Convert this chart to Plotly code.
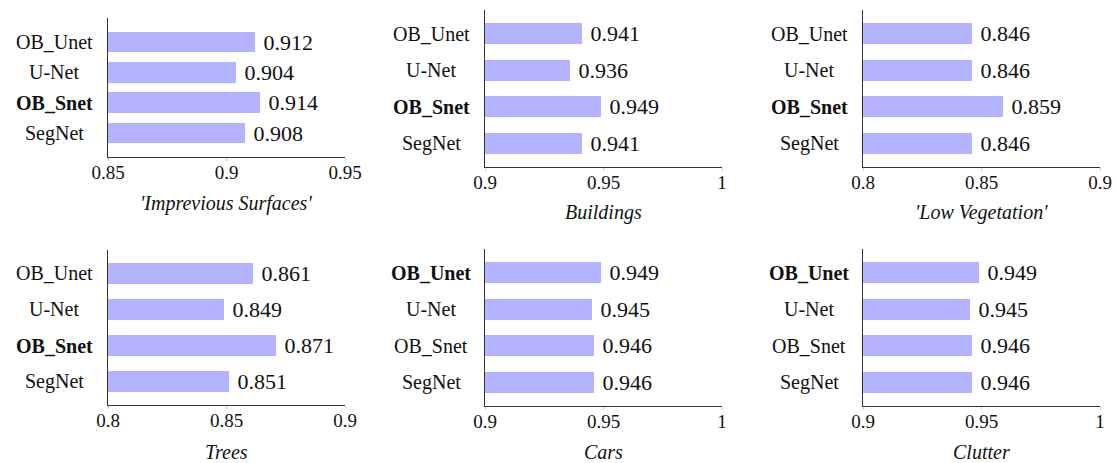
import plotly.graph_objects as go

models = ["SegNet", "OB_Snet", "U-Net", "OB_Unet"]  # bottom to top

impervious = [0.908, 0.914, 0.904, 0.912]
buildings = [0.941, 0.949, 0.936, 0.941]
low_veg = [0.846, 0.859, 0.846, 0.846]
trees = [0.851, 0.871, 0.849, 0.861]
cars = [0.946, 0.946, 0.945, 0.949]
clutter = [0.946, 0.946, 0.945, 0.949]

titles = ["'Imprevious Surfaces'", "Buildings", "'Low Vegetation'", "Trees", "Cars", "Clutter"]
x_ranges = [(0.85, 0.95), (0.9, 1.0), (0.8, 0.9), (0.8, 0.9), (0.9, 1.0), (0.9, 1.0)]
x_ticks = [[0.85, 0.9, 0.95], [0.9, 0.95, 1], [0.8, 0.85, 0.9],
           [0.8, 0.85, 0.9], [0.9, 0.95, 1], [0.9, 0.95, 1]]
bold_model = ["OB_Snet", "OB_Snet", "OB_Snet", "OB_Snet", "OB_Unet", "OB_Unet"]
series = [impervious, buildings, low_veg, trees, cars, clutter]

W, H = 1116, 463
# panel boxes in pixels: left, right, top, bottom
boxes = [(108, 345, 18, 157), (485, 722, 10, 167), (863, 1100, 10, 167),
         (108, 345, 250, 405), (485, 722, 249, 406), (863, 1100, 249, 406)]
title_y = [204, 213, 213, 452, 452, 452]

FONT = "Liberation Serif"
BAR = "#b3b3ff"
INK = "#111111"


def px(x):
    return x / W


def py(y):
    return 1 - y / H


fig = go.Figure()
ypos = list(range(len(models)))

for i, vals in enumerate(series):
    n = "" if i == 0 else str(i + 1)
    l, r, t, b = boxes[i]
    wide = i == 0
    fig.add_trace(go.Bar(
        x=vals, y=ypos, orientation="h", base=0,
        marker=dict(color=BAR, line=dict(width=0)),
        width=0.69 if wide else 0.58,
        text=[" %.3f" % v for v in vals], textposition="outside",
        constraintext="none",
        textfont=dict(family=FONT, size=22, color=INK),
        cliponaxis=False, showlegend=False,
        xaxis="x" + n, yaxis="y" + n,
    ))
    rng = (-0.79, 3.79) if wide else (-0.65, 3.65)
    fig.layout["xaxis" + n] = dict(
        domain=[px(l), px(r)], range=list(x_ranges[i]), anchor="y" + n,
        tickvals=x_ticks[i], ticktext=[("%g" % v) for v in x_ticks[i]],
        showgrid=False, zeroline=False, showline=True, linecolor="#333", linewidth=1,
        ticks="outside", ticklen=3, tickcolor="#cccccc", automargin=False,
        ticklabelstandoff=-5,
        tickfont=dict(family=FONT, size=19, color=INK),
    )
    fig.layout["yaxis" + n] = dict(
        domain=[py(b), py(t)], range=list(rng), anchor="x" + n,
        showticklabels=False, showgrid=False, zeroline=False, automargin=False,
        showline=True, linecolor="#333", linewidth=1, ticks="",
    )
    for j, m in enumerate(models):
        label = "<b>%s</b>" % m if m == bold_model[i] else m
        fig.add_annotation(
            x=px(l - 54), xref="paper", y=j, yref="y" + n,
            text=label, showarrow=False, xanchor="center", yanchor="middle",
            font=dict(family=FONT, size=20, color=INK),
        )
    fig.add_annotation(
        x=px((l + r) / 2), xref="paper", y=py(title_y[i]), yref="paper",
        text="<i>%s</i>" % titles[i], showarrow=False,
        xanchor="center", yanchor="middle",
        font=dict(family=FONT, size=20, color=INK),
    )

fig.update_layout(
    width=W, height=H, margin=dict(l=0, r=0, t=0, b=0, autoexpand=False),
    paper_bgcolor="white", plot_bgcolor="white", bargap=0,
)

# drop the default body margin so the figure fills the window exactly
fig.write_html("out.html", config={"displayModeBar": False},
               post_script="document.body.style.margin='0';")
